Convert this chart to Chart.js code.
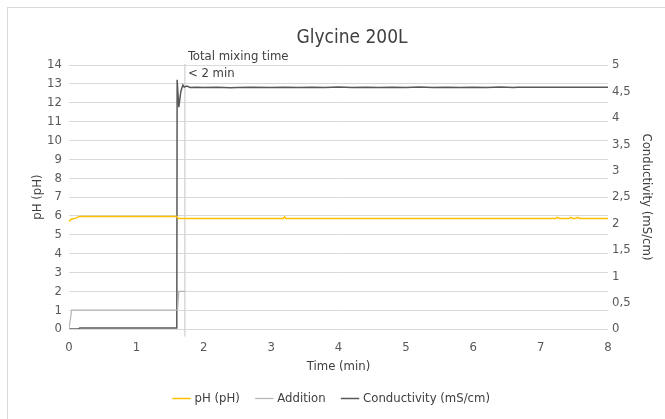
<!DOCTYPE html>
<html>
<head>
<meta charset="utf-8">
<script src="https://cdn.jsdelivr.net/npm/chart.js@4.4.0/dist/chart.umd.min.js"></script>
<style>
  body { margin: 0; background: #fff; }
  #wrap { position: relative; width: 665px; height: 419px; overflow: hidden; }
  #frame { position: absolute; left: 7px; top: 7px; width: 700px; height: 500px; border: 1px solid #d9d9d9; box-sizing: border-box; }
  canvas { position: absolute; left: 0; top: 0; }
</style>
</head>
<body>
<div id="wrap">
  <div id="frame"></div>
  <canvas id="chart" width="665" height="419"></canvas>
</div>
<script>
// pH (left axis)
var phTime  = [0, 0.03, 0.06, 0.1, 0.15, 0.5, 1.0, 1.6, 1.62, 2.0, 3.0, 3.18, 3.2, 3.22, 4.0, 5.0, 6.0, 7.0, 7.22, 7.25, 7.28, 7.42, 7.45, 7.48, 7.52, 7.55, 7.58, 8.0];
var phValue = [5.7, 5.82, 5.85, 5.88, 5.97, 5.97, 5.97, 5.97, 5.86, 5.86, 5.86, 5.86, 5.95, 5.86, 5.86, 5.86, 5.86, 5.86, 5.86, 5.92, 5.86, 5.86, 5.92, 5.86, 5.86, 5.92, 5.86, 5.86];

// Addition (left axis)
var addTime  = [0, 0.04, 1.61, 1.63, 1.72];
var addValue = [0, 1, 1, 2, 2];

// mixing time marker
var markTime  = [1.72, 1.72];
var markValue = [-0.4, 14.05];

// Conductivity (right axis, mS/cm)
var condTime  = [0, 0.14, 0.16, 1.6, 1.605, 1.63, 1.66, 1.69, 1.71, 1.75, 1.8, 1.9, 2.0, 2.2, 2.4, 2.5, 2.7, 3.0, 3.2, 3.4, 3.6, 3.8, 4.0, 4.2, 4.4, 4.6, 4.8, 5.0, 5.2, 5.4, 5.6, 5.8, 6.0, 6.2, 6.4, 6.6, 6.65, 7.0, 7.5, 8.0];
var condValue = [0, 0, 0.02, 0.02, 4.72, 4.2, 4.5, 4.62, 4.58, 4.6, 4.575, 4.58, 4.575, 4.58, 4.57, 4.575, 4.58, 4.575, 4.58, 4.572, 4.58, 4.575, 4.582, 4.575, 4.58, 4.572, 4.58, 4.575, 4.582, 4.575, 4.58, 4.572, 4.58, 4.575, 4.582, 4.575, 4.58, 4.58, 4.58, 4.58];

var xTicks = [0, 1, 2, 3, 4, 5, 6, 7, 8];

function pts(xs, ys) {
    return xs.map(function (x, i) { return { x: x, y: ys[i] }; });
}

var FONT = "'Liberation Sans Narrow', 'DejaVu Sans Condensed', sans-serif";
var TXT = "#595959";

var textPlugin = {
    id: "texts",
    afterDraw: function (chart) {
        var c = chart.ctx;
        c.save();
        c.fillStyle = "#404040";
        c.font = "19px " + FONT;
        c.textAlign = "center";
        c.textBaseline = "middle";
        c.fillText("Glycine 200L", 352, 38);
        c.font = "13px " + FONT;
        c.textAlign = "left";
        var x = chart.scales.x.getPixelForValue(1.72) + 3;
        c.fillText("Total mixing time", x, 57);
        c.fillText("< 2 min", x, 74);
        c.restore();
    }
};

Chart.defaults.font.family = FONT;
Chart.defaults.color = TXT;

new Chart(document.getElementById("chart").getContext("2d"), {
    type: "line",
    data: {
        datasets: [{
            label: "pH (pH)",
            data: pts(phTime, phValue),
            borderColor: "#FFC000",
            backgroundColor: "#FFC000",
            borderWidth: 1.5,
            yAxisID: "y"
        }, {
            label: "Addition",
            data: pts(addTime, addValue),
            borderColor: "#B4B4B4",
            backgroundColor: "#B4B4B4",
            borderWidth: 1.2,
            yAxisID: "y"
        }, {
            label: "Conductivity (mS/cm)",
            data: pts(condTime, condValue),
            borderColor: "#595959",
            backgroundColor: "#595959",
            borderWidth: 1.5,
            yAxisID: "y1"
        }, {
            label: "marker",
            data: pts(markTime, markValue),
            borderColor: "#CFCFCF",
            borderWidth: 1.2,
            yAxisID: "y",
            clip: false
        }]
    },
    options: {
        responsive: false,
        animation: false,
        elements: { point: { radius: 0 }, line: { tension: 0 } },
        layout: { padding: { top: 65, bottom: 4 } },
        plugins: {
            legend: {
                position: "bottom",
                labels: {
                    usePointStyle: true,
                    pointStyle: "line",
                    boxWidth: 14,
                    color: "#404040",
                    font: { size: 13 },
                    padding: 18,
                    filter: function (item) { return item.text !== "marker"; }
                }
            },
            tooltip: { enabled: false }
        },
        scales: {
            x: {
                type: "linear",
                min: 0,
                max: 8,
                afterBuildTicks: function (s) { s.ticks = xTicks.map(function (v) { return { value: v }; }); },
                afterFit: function (s) { s.height = 45; },
                grid: { display: false },
                border: { display: false },
                ticks: { font: { size: 13 }, padding: 3, autoSkip: false },
                title: { display: true, text: "Time (min)", font: { size: 13 }, color: "#404040", padding: 0 }
            },
            y: {
                position: "left",
                min: 0,
                max: 14,
                afterFit: function (s) { s.width = 69; },
                grid: { color: "#D9D9D9", drawTicks: false },
                border: { display: false },
                ticks: { stepSize: 1, font: { size: 13 }, padding: 7, autoSkip: false },
                title: { display: true, text: "pH (pH)", font: { size: 13 }, color: "#404040", padding: { top: 30 } }
            },
            y1: {
                position: "right",
                min: 0,
                max: 5,
                afterFit: function (s) { s.width = 57; },
                grid: { display: false, drawTicks: false },
                border: { display: false },
                ticks: {
                    stepSize: 0.5,
                    font: { size: 13 },
                    padding: 4,
                    autoSkip: false,
                    callback: function (v) { return String(v).replace(".", ","); }
                },
                title: { display: true, text: "Conductivity (mS/cm)", font: { size: 13 }, color: "#404040", padding: { top: 11 } }
            }
        }
    },
    plugins: [textPlugin]
});
</script>
</body>
</html>
